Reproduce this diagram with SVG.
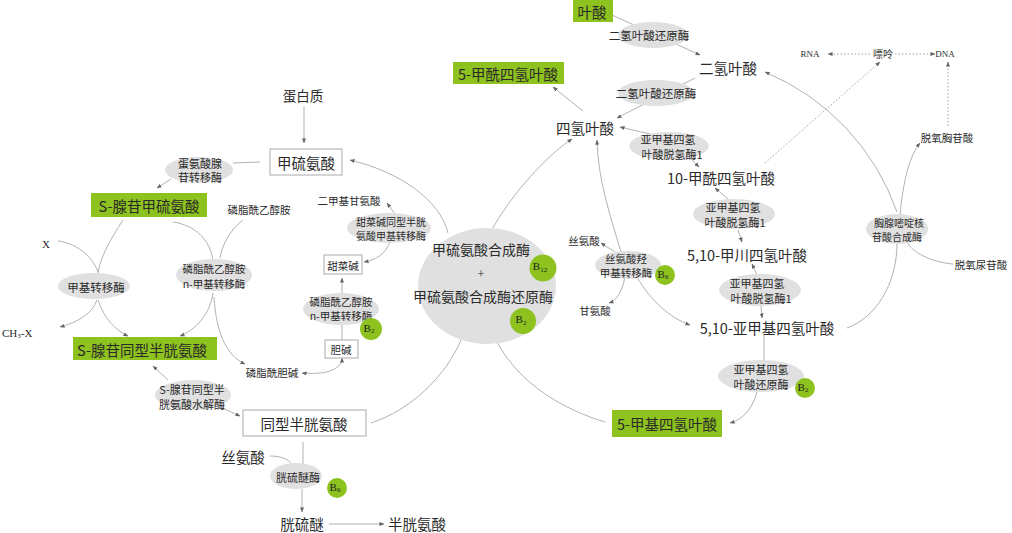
<svg xmlns="http://www.w3.org/2000/svg" width="1012" height="533" viewBox="0 0 1012 533">
<style>
text{font-family:"Noto Sans CJK SC","Noto Sans",sans-serif;fill:#2a2a2a;text-anchor:middle;dominant-baseline:central}
.lat{font-family:"Liberation Serif","Noto Sans CJK SC",serif}
.big{font-size:14.5px}
.mid{font-size:13.5px}
.sm{font-size:10.5px}
.en{font-size:11px}
.gr{fill:#8dc21f}
.box{fill:#fff;stroke:#aaa;stroke-width:1}
.el{fill:#e0e0e0}
.vit{fill:#8dc21f}
.vt{font-family:"Liberation Serif",serif;font-size:11px;fill:#222}
#connectors path{fill:none;stroke:#a8a8a8;stroke-width:0.9}
#connectors .dot{stroke-dasharray:1.5,2;stroke:#999}
</style>
<defs>
<marker id="a" viewBox="0 0 6 6" refX="5.5" refY="3" markerWidth="5" markerHeight="5" markerUnits="userSpaceOnUse" orient="auto-start-reverse">
<path d="M0,0.6 L6,3 L0,5.4z" fill="#666"/>
</marker>
</defs>
<rect width="1012" height="533" fill="#fff"/>

<g id="connectors">
<path d="M612,15 L700,55" marker-end="url(#a)"/>
<path d="M695,78 L617,118" marker-end="url(#a)"/>
<path d="M583,111 L553,87" marker-end="url(#a)"/>
<path d="M650,134 L620,127" marker-end="url(#a)"/>
<path d="M690,158 L699,167" marker-end="url(#a)"/>
<path d="M728,199 L715,188" marker-end="url(#a)"/>
<path d="M738,230 L742,242" marker-end="url(#a)"/>
<path d="M757,275 L752,264" marker-end="url(#a)"/>
<path d="M761,306 L762,318" marker-end="url(#a)"/>
<path d="M764,335 L764,362"/>
<path d="M757,392 C752,410 742,420 730,423" marker-end="url(#a)"/>
<path class="dot" d="M765,163 L880,62" marker-end="url(#a)"/>
<path class="dot" d="M870,54 L828,54" marker-end="url(#a)"/>
<path class="dot" d="M895,54 L935,54" marker-end="url(#a)"/>
<path class="dot" d="M948,126 L948,62" marker-end="url(#a)"/>
<path d="M900,216 C903,180 910,155 920,143" marker-end="url(#a)"/>
<path d="M953,264 C930,262 912,252 907,242"/>
<path d="M897,212 A236,236 0 0 0 765,72" marker-end="url(#a)"/>
<path d="M897,243 C897,285 875,318 847,328"/>
<path d="M448,233 C440,200 400,172 350,160" marker-end="url(#a)"/>
<path d="M493,228 C505,205 540,160 572,139" marker-end="url(#a)"/>
<path d="M462,338 C445,378 410,410 371,423"/>
<path d="M497,342 C520,385 565,410 605,422"/>
<path d="M621,252 C610,215 598,180 597,140" marker-end="url(#a)"/>
<path d="M637,277 C650,300 670,318 690,325" marker-end="url(#a)"/>
<path d="M615,252 L601,243" marker-end="url(#a)"/>
<path d="M625,277 C622,292 617,300 609,303" marker-end="url(#a)"/>
<path d="M304,106 L304,143" marker-end="url(#a)"/>
<path d="M260,162 L233,163"/>
<path d="M171,179 L157,188" marker-end="url(#a)"/>
<path d="M123,220 C110,240 100,258 98,273"/>
<path d="M98,300 C104,318 115,330 128,336" marker-end="url(#a)"/>
<path d="M58,241 C75,243 92,255 98,272"/>
<path d="M97,300 C92,315 75,323 60,327" marker-end="url(#a)"/>
<path d="M173,222 C195,225 210,240 213,260"/>
<path d="M213,293 C210,315 195,330 180,336" marker-end="url(#a)"/>
<path d="M243,220 C230,230 222,245 220,258"/>
<path d="M214,297 C216,330 225,355 245,364" marker-end="url(#a)"/>
<path d="M302,373 C325,375 342,370 342,358" marker-start="url(#a)" marker-end="url(#a)"/>
<path d="M342,340 L342,325"/>
<path d="M342,293 L342,278" marker-end="url(#a)"/>
<path d="M390,242 C385,255 375,260 364,262" marker-end="url(#a)"/>
<path d="M395,214 L387,203" marker-end="url(#a)"/>
<path d="M168,380 L153,366" marker-end="url(#a)"/>
<path d="M220,407 L240,416" marker-end="url(#a)"/>
<path d="M303,442 L303,464"/>
<path d="M270,456 C280,456 288,459 291,463"/>
<path d="M302,489 L302,512" marker-end="url(#a)"/>
<path d="M329,524 L384,524" marker-end="url(#a)"/>
</g>

<g id="n-folate"><rect class="gr" x="573" y="0" width="40" height="22"/><text class="big" x="592" y="11">叶酸</text></g>
<g id="n-5formylthf"><rect class="gr" x="453" y="62" width="111" height="22"/><text class="big" x="508" y="73">5-甲酰四氢叶酸</text></g>
<g id="n-sam"><rect class="gr" x="91" y="193" width="116" height="24"/><text class="big" x="149" y="205">S-腺苷甲硫氨酸</text></g>
<g id="n-sah"><rect class="gr" x="73" y="337" width="144" height="23"/><text class="big" x="142" y="349">S-腺苷同型半胱氨酸</text></g>
<g id="n-5methylthf"><rect class="gr" x="612" y="410" width="110" height="27"/><text class="big" x="667" y="423">5-甲基四氢叶酸</text></g>

<g id="n-met"><rect class="box" x="270" y="149" width="72" height="26"/><text class="big" x="306" y="162">甲硫氨酸</text></g>
<g id="n-betaine"><rect class="box" x="324" y="255" width="38" height="19"/><text class="sm" x="343" y="265">甜菜碱</text></g>
<g id="n-choline"><rect class="box" x="325" y="340" width="33" height="18"/><text class="sm" x="341" y="349">胆碱</text></g>
<g id="n-hcy"><rect class="box" x="243" y="410" width="123" height="26"/><text class="big" x="304" y="423">同型半胱氨酸</text></g>

<g id="n-protein"><text class="mid" x="303" y="95">蛋白质</text></g>
<g id="n-dmg"><text class="sm" x="349" y="200">二甲基甘氨酸</text></g>
<g id="n-pe"><text class="sm" x="259" y="209">磷脂酰乙醇胺</text></g>
<g id="n-x"><text class="lat en" x="46" y="244">X</text></g>
<g id="n-ch3x"><text class="lat en" x="2" y="333" style="text-anchor:start">CH<tspan font-size="7" dy="3">3</tspan><tspan dy="-3">-X</tspan></text></g>
<g id="n-pc"><text class="sm" x="272" y="372">磷脂酰胆碱</text></g>
<g id="n-ser1"><text class="big" x="243" y="456">丝氨酸</text></g>
<g id="n-cysta"><text class="big" x="302" y="523">胱硫醚</text></g>
<g id="n-cys"><text class="big" x="417" y="523">半胱氨酸</text></g>
<g id="n-thf"><text class="big" x="585" y="127">四氢叶酸</text></g>
<g id="n-dhf"><text class="big" x="728" y="67">二氢叶酸</text></g>
<g id="n-10formyl"><text class="big" x="721" y="177">10-甲酰四氢叶酸</text></g>
<g id="n-methenyl"><text class="big" x="747" y="254">5,10-甲川四氢叶酸</text></g>
<g id="n-methylene"><text class="big" x="767" y="327">5,10-亚甲基四氢叶酸</text></g>
<g id="n-ser2"><text class="sm" x="584" y="240">丝氨酸</text></g>
<g id="n-gly"><text class="sm" x="595" y="310">甘氨酸</text></g>
<g id="n-rna"><text class="lat" font-size="9" x="810" y="54">RNA</text></g>
<g id="n-purine"><text font-size="10" x="883" y="53">嘌呤</text></g>
<g id="n-dna"><text class="lat" font-size="9" x="945" y="54">DNA</text></g>
<g id="n-dtmp"><text class="sm" x="947" y="137">脱氧胸苷酸</text></g>
<g id="n-dump"><text class="sm" x="981" y="264">脱氧尿苷酸</text></g>

<g id="e-dhfr1"><ellipse class="el" cx="653" cy="35" rx="35" ry="13"/><text font-size="11.5" x="649" y="35">二氢叶酸还原酶</text></g>
<g id="e-dhfr2"><ellipse class="el" cx="656" cy="93" rx="38" ry="13"/><text font-size="11.5" x="656" y="93">二氢叶酸还原酶</text></g>
<g id="e-mthfd1"><ellipse class="el" cx="669" cy="146" rx="40" ry="14"/><text font-size="11" x="668" y="139">亚甲基四氢</text><text font-size="11" x="672" y="154">叶酸脱氢酶1</text></g>
<g id="e-mthfd2"><ellipse class="el" cx="734" cy="214" rx="41" ry="15"/><text font-size="11" x="733" y="207">亚甲基四氢</text><text font-size="11" x="735" y="222">叶酸脱氢酶1</text></g>
<g id="e-mthfd3"><ellipse class="el" cx="760" cy="290" rx="41" ry="16"/><text font-size="11" x="757" y="283">亚甲基四氢</text><text font-size="11" x="761" y="298">叶酸脱氢酶1</text></g>
<g id="e-mthfr"><ellipse class="el" cx="761" cy="376" rx="43" ry="16"/><text font-size="11" x="761" y="369">亚甲基四氢</text><text font-size="11" x="761" y="384">叶酸还原酶</text>
<circle class="vit" cx="805" cy="388" r="10"/><text class="vt" x="803" y="387">B<tspan font-size="7" dy="3">2</tspan></text></g>
<g id="e-ts"><ellipse class="el" cx="897" cy="229" rx="31" ry="15"/><text font-size="10" x="899" y="222">胸腺嘧啶核</text><text font-size="10" x="897" y="236">苷酸合成酶</text></g>
<g id="e-mat"><ellipse class="el" cx="199" cy="170" rx="34" ry="13"/><text font-size="11" x="200" y="163">蛋氨酸腺</text><text font-size="11" x="200" y="177">苷转移酶</text></g>
<g id="e-mt"><ellipse class="el" cx="94" cy="286" rx="36" ry="13"/><text font-size="11.5" x="96" y="287">甲基转移酶</text></g>
<g id="e-pemt1"><ellipse class="el" cx="214" cy="275" rx="38" ry="16"/><text font-size="10.5" x="214" y="268">磷脂酰乙醇胺</text><text font-size="10.5" x="214" y="283">n-甲基转移酶</text></g>
<g id="e-pemt2"><ellipse class="el" cx="341" cy="309" rx="38" ry="16"/><text font-size="10.5" x="341" y="301">磷脂酰乙醇胺</text><text font-size="10.5" x="341" y="315">n-甲基转移酶</text>
<circle class="vit" cx="371" cy="329" r="11"/><text class="vt" x="369" y="328">B<tspan font-size="7" dy="3">2</tspan></text></g>
<g id="e-bhmt"><ellipse class="el" cx="389" cy="228" rx="42" ry="15"/><text font-size="10" x="391" y="221">甜菜碱同型半胱</text><text font-size="10" x="391" y="235">氨酸甲基转移酶</text></g>
<g id="e-sahh"><ellipse class="el" cx="193" cy="395" rx="38" ry="15"/><text font-size="11" x="192" y="389">S-腺苷同型半</text><text font-size="11" x="192" y="404">胱氨酸水解酶</text></g>
<g id="e-cbs"><ellipse class="el" cx="296" cy="476" rx="26" ry="13"/><text font-size="11" x="298" y="477">胱硫醚酶</text>
<circle class="vit" cx="337" cy="488" r="10"/><text class="vt" x="335" y="487">B<tspan font-size="7" dy="3">6</tspan></text></g>
<g id="e-shmt"><ellipse class="el" cx="628" cy="265" rx="33" ry="14"/><text font-size="10.5" x="626" y="258">丝氨酸羟</text><text font-size="10.5" x="626" y="272">甲基转移酶</text>
<circle class="vit" cx="665" cy="275" r="10"/><text class="vt" x="663" y="274">B<tspan font-size="7" dy="3">6</tspan></text></g>
<g id="e-ms"><ellipse class="el" cx="487" cy="286" rx="69" ry="58"/>
<text font-size="14" x="481" y="249">甲硫氨酸合成酶</text>
<text class="lat" font-size="13" x="481" y="273">+</text>
<text font-size="14" x="483" y="296">甲硫氨酸合成酶还原酶</text>
<circle class="vit" cx="543" cy="268" r="13.5"/><text class="vt" font-size="12" x="540" y="266">B<tspan font-size="7" dy="4">12</tspan></text>
<circle class="vit" cx="523" cy="321" r="13"/><text class="vt" font-size="12" x="521" y="319">B<tspan font-size="7" dy="4">2</tspan></text></g>
</svg>
